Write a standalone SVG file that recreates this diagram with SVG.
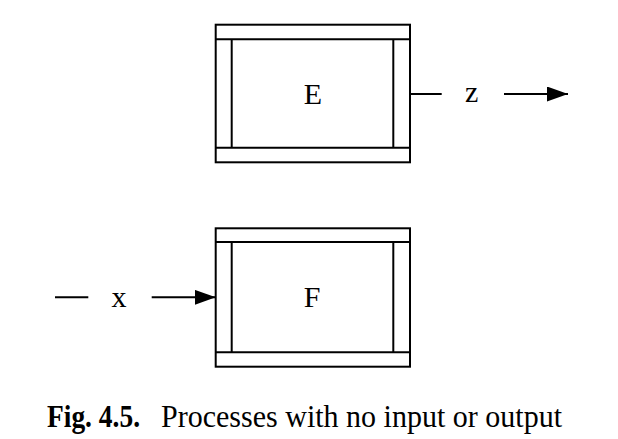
<svg xmlns="http://www.w3.org/2000/svg" width="618" height="439" viewBox="0 0 618 439">
<style>
.box{fill:none;stroke:#000;stroke-width:2}
.ln{stroke:#000;stroke-width:2;fill:none}
.lbl{font-family:"Liberation Serif",serif;font-size:30px;fill:#000;text-anchor:middle}
.cap{font-family:"Liberation Serif","DejaVu Serif",serif;font-size:32px;fill:#000}
</style>
<defs>
<marker id="ah" markerWidth="22" markerHeight="16" refX="21" refY="7.5" orient="auto" markerUnits="userSpaceOnUse">
<path d="M0,0 L21,7.5 L0,15 Z" fill="#000"/>
</marker>
</defs>
<rect width="618" height="439" fill="#fff"/>
<g id="node-E">
<rect class="box" x="215.7" y="24.7" width="194.3" height="137.6"/>
<line class="ln" x1="215.7" y1="39.3" x2="410" y2="39.3"/>
<line class="ln" x1="215.7" y1="147.7" x2="410" y2="147.7"/>
<line class="ln" x1="231.7" y1="39.3" x2="231.7" y2="147.7"/>
<line class="ln" x1="393.3" y1="39.3" x2="393.3" y2="147.7"/>
<text class="lbl" x="313" y="104">E</text>
</g>
<g id="node-F">
<rect class="box" x="215.7" y="228.3" width="194.3" height="138.4"/>
<line class="ln" x1="215.7" y1="242" x2="410" y2="242"/>
<line class="ln" x1="215.7" y1="352.3" x2="410" y2="352.3"/>
<line class="ln" x1="231.7" y1="242" x2="231.7" y2="352.3"/>
<line class="ln" x1="393.3" y1="242" x2="393.3" y2="352.3"/>
<text class="lbl" x="312" y="307">F</text>
</g>
<g id="connectors">
<line class="ln" x1="410" y1="94" x2="441.7" y2="94"/>
<line class="ln" x1="504" y1="94" x2="568" y2="94" marker-end="url(#ah)"/>
<text class="lbl" x="471.7" y="102">z</text>
<line class="ln" x1="55" y1="297.3" x2="88.3" y2="297.3"/>
<line class="ln" x1="151.7" y1="297.3" x2="215.7" y2="297.3" marker-end="url(#ah)"/>
<text class="lbl" x="119" y="306.7">x</text>
</g>
<g id="caption">
<text class="cap" x="47" y="427" font-weight="bold" textLength="93" lengthAdjust="spacingAndGlyphs">Fig. 4.5.</text>
<text class="cap" x="161" y="427" textLength="401" lengthAdjust="spacingAndGlyphs">Processes with no input or output</text>
</g>
</svg>
